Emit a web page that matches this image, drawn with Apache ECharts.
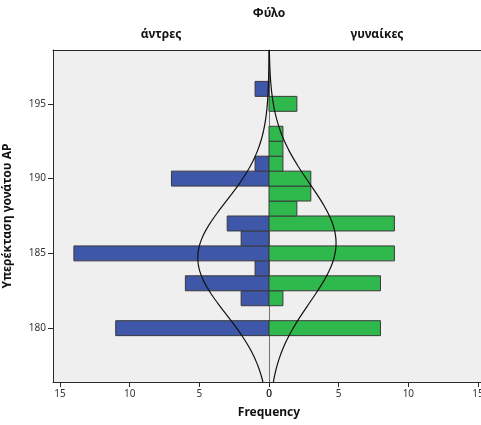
<!DOCTYPE html>
<html>
<head>
<meta charset="utf-8">
<script src="https://cdn.jsdelivr.net/npm/echarts@6/dist/echarts.min.js"></script>
<style>
  html, body { margin: 0; padding: 0; background: #fff; }
  #chart { width: 481px; height: 425px; }
</style>
</head>
<body>
<div id="chart"></div>
<script>
// Knee hyperextension (AP) histogram split by sex, bin width 1
const heights    = [180, 181, 182, 183, 184, 185, 186, 187, 188, 189, 190, 191, 192, 193, 194, 195, 196];
const menCounts  = [11,  0,   2,   6,   1,   14,  2,   3,   0,   0,   7,   1,   0,   0,   0,   0,   1];
const womenCounts= [8,   0,   1,   8,   0,   9,   0,   9,   2,   3,   3,   1,   1,   1,   0,   2,   0];
const yTicks = [180, 185, 190, 195];
const xTicks = [0, 5, 10, 15];
const groupNames = ['άντρες', 'γυναίκες'];

const FONT = 'Noto Sans';
const Y_MIN = 176.4, Y_MAX = 198.6, X_MAX = 15.5;

function barData(counts) {
  const out = [];
  heights.forEach((h, i) => { if (counts[i] > 0) out.push([counts[i], h]); });
  return out;
}

// Normal curve fitted to a group's histogram (N * bin width * pdf)
function normalCurve(counts) {
  let n = 0, s = 0;
  heights.forEach((h, i) => { n += counts[i]; s += counts[i] * h; });
  const mean = s / n;
  let ss = 0;
  heights.forEach((h, i) => { ss += counts[i] * (h - mean) * (h - mean); });
  const sd = Math.sqrt(ss / (n - 1));
  const pts = [];
  const steps = 240;
  for (let k = 0; k <= steps; k++) {
    const y = Y_MIN + (Y_MAX - Y_MIN) * k / steps;
    const d = n / (sd * Math.sqrt(2 * Math.PI)) * Math.exp(-((y - mean) ** 2) / (2 * sd * sd));
    pts.push([d, y]);
  }
  return pts;
}

function renderBar(color) {
  return function (params, api) {
    const c = api.value(0), h = api.value(1);
    const a = api.coord([0, h + 0.5]);
    const b = api.coord([c, h - 0.5]);
    return {
      type: 'rect',
      shape: { x: Math.min(a[0], b[0]), y: a[1], width: Math.abs(b[0] - a[0]), height: b[1] - a[1] },
      style: { fill: color, stroke: '#3a3a3a', lineWidth: 1 }
    };
  };
}

const chart = echarts.init(document.getElementById('chart'));

const bottomX = (grid, inverse) => ({
  gridIndex: grid, type: 'value', min: 0, max: X_MAX, inverse: inverse, position: 'bottom',
  axisLine: { show: true, onZero: false, lineStyle: { color: '#2a2a2a', width: 1 } },
  axisTick: { show: true, length: 5, customValues: xTicks, lineStyle: { color: '#2a2a2a' } },
  axisLabel: { customValues: xTicks, color: '#333', fontFamily: FONT, fontSize: 10, margin: 7 },
  splitLine: { show: false }
});
const topX = (grid, inverse, name) => ({
  gridIndex: grid, type: 'value', min: 0, max: X_MAX, inverse: inverse, position: 'top',
  name: name, nameLocation: 'middle', nameGap: 9,
  nameTextStyle: { fontFamily: FONT, fontSize: 12, fontWeight: 'bold', color: '#111' },
  axisLine: { show: true, onZero: false, lineStyle: { color: '#2a2a2a', width: 1 } },
  axisTick: { show: false }, axisLabel: { show: false }, splitLine: { show: false }
});

chart.setOption({
  animation: false,
  backgroundColor: '#ffffff',
  grid: [
    { left: 53, top: 50, width: 216, height: 332, show: true, backgroundColor: '#efefef', borderWidth: 0, outerBoundsMode: 'none' },
    { left: 269, top: 50, width: 216, height: 332, show: true, backgroundColor: '#efefef', borderWidth: 0, outerBoundsMode: 'none' }
  ],
  xAxis: [
    bottomX(0, true),
    bottomX(1, false),
    topX(0, true, groupNames[0]),
    topX(1, false, groupNames[1])
  ],
  yAxis: [
    {
      gridIndex: 0, type: 'value', min: Y_MIN, max: Y_MAX, position: 'left',
      name: 'Υπερέκταση γονάτου ΑΡ', nameLocation: 'middle', nameGap: 39, nameRotate: 90,
      nameTextStyle: { fontFamily: FONT, fontSize: 12, fontWeight: 'bold', color: '#111' },
      axisLine: { show: true, onZero: false, lineStyle: { color: '#2a2a2a', width: 1 } },
      axisTick: { show: true, length: 5, customValues: yTicks, lineStyle: { color: '#2a2a2a' } },
      axisLabel: { customValues: yTicks, color: '#333', fontFamily: FONT, fontSize: 10, margin: 7 },
      splitLine: { show: false }
    },
    {
      gridIndex: 1, type: 'value', min: Y_MIN, max: Y_MAX, position: 'left',
      axisLine: { show: true, onZero: false, lineStyle: { color: '#707070', width: 1 } },
      axisTick: { show: false }, axisLabel: { show: false }, splitLine: { show: false }
    }
  ],
  series: [
    {
      type: 'custom', xAxisIndex: 0, yAxisIndex: 0, data: barData(menCounts),
      encode: { x: 0, y: 1 }, renderItem: renderBar('#3e57a9'), z: 2
    },
    {
      type: 'custom', xAxisIndex: 1, yAxisIndex: 1, data: barData(womenCounts),
      encode: { x: 0, y: 1 }, renderItem: renderBar('#2fb84b'), z: 2
    },
    {
      type: 'line', xAxisIndex: 0, yAxisIndex: 0, data: normalCurve(menCounts),
      showSymbol: false, lineStyle: { color: '#111', width: 1.2 }, z: 3
    },
    {
      type: 'line', xAxisIndex: 1, yAxisIndex: 1, data: normalCurve(womenCounts),
      showSymbol: false, lineStyle: { color: '#111', width: 1.2 }, z: 3
    }
  ],
  graphic: [
    { type: 'text', x: 269, y: 14, style: { text: 'Φύλο', fontFamily: FONT, fontSize: 12, fontWeight: 'bold', fill: '#111', align: 'center', verticalAlign: 'middle' } },
    { type: 'text', x: 269, y: 413, style: { text: 'Frequency', fontFamily: FONT, fontSize: 12, fontWeight: 'bold', fill: '#111', align: 'center', verticalAlign: 'middle' } }
  ]
});
</script>
</body>
</html>
